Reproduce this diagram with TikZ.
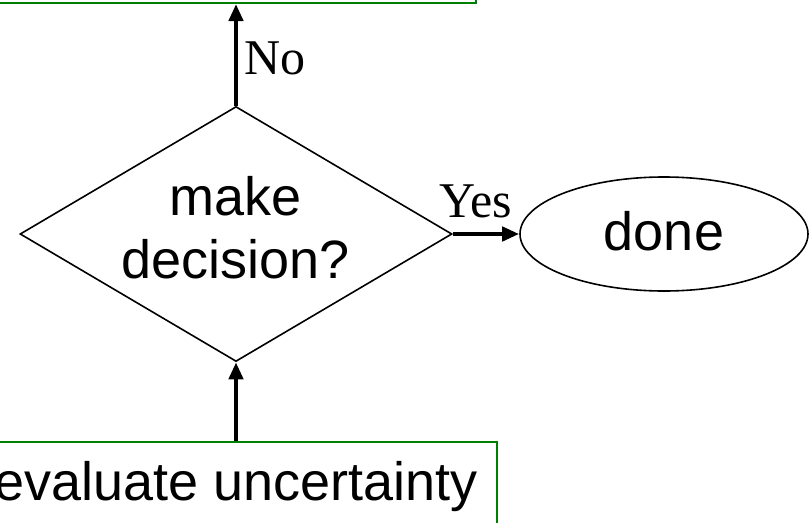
\documentclass[tikz,border=0pt]{standalone}
\usepackage{fontspec}
\setmainfont{Liberation Serif}
\setsansfont{Liberation Sans}
\usetikzlibrary{shapes.geometric,arrows.meta}

\begin{document}
\begin{tikzpicture}[x=1pt,y=-1pt,
    stepbox/.style={draw=green!50!black,line width=1.8pt,inner sep=0pt,
      font=\sffamily\fontsize{54}{63}\selectfont},
    decision/.style={diamond,draw,line width=1.6pt,shape aspect=1.69,inner sep=0pt,
      align=center,font=\sffamily\fontsize{54}{63}\selectfont},
    terminal/.style={ellipse,draw,line width=1.6pt,inner sep=0pt,
      font=\sffamily\fontsize{54}{63}\selectfont},
    flow/.style={line width=4.5pt,-{Triangle[length=17pt,width=14pt]}},
    answer/.style={font=\fontsize{50}{50}\selectfont,inner sep=0pt}]
    \def\cx{236} % x of the main column
    \def\cy{234} % y of the decision row
    \useasboundingbox (0,0) rectangle (811,522);

    % Boxes
    \node[stepbox,minimum width=480pt,minimum height=90pt,anchor=south] (revise) at (\cx,4) {};
    \node[decision,minimum width=432pt,minimum height=255pt,text depth=14pt] (decide) at (\cx,\cy) {make\\decision?};
    \node[terminal,minimum width=288pt,minimum height=114pt,text depth=7pt] (done) at (664,\cy) {done};
    \node[stepbox,minimum width=522pt,minimum height=90pt,anchor=north] (evaluate) at (\cx,441) {evaluate uncertainty};

    % Arrows
    \draw[flow] (evaluate.north) -- (decide.south);
    \draw[flow] (decide.north) -- (revise.south)
      node[answer,anchor=base west,pos=0.31,xshift=6pt] {No};
    \draw[flow] (decide.east) -- (done.west)
      node[answer,anchor=base,pos=0.34,yshift=17pt] {Yes};
\end{tikzpicture}
\end{document}
